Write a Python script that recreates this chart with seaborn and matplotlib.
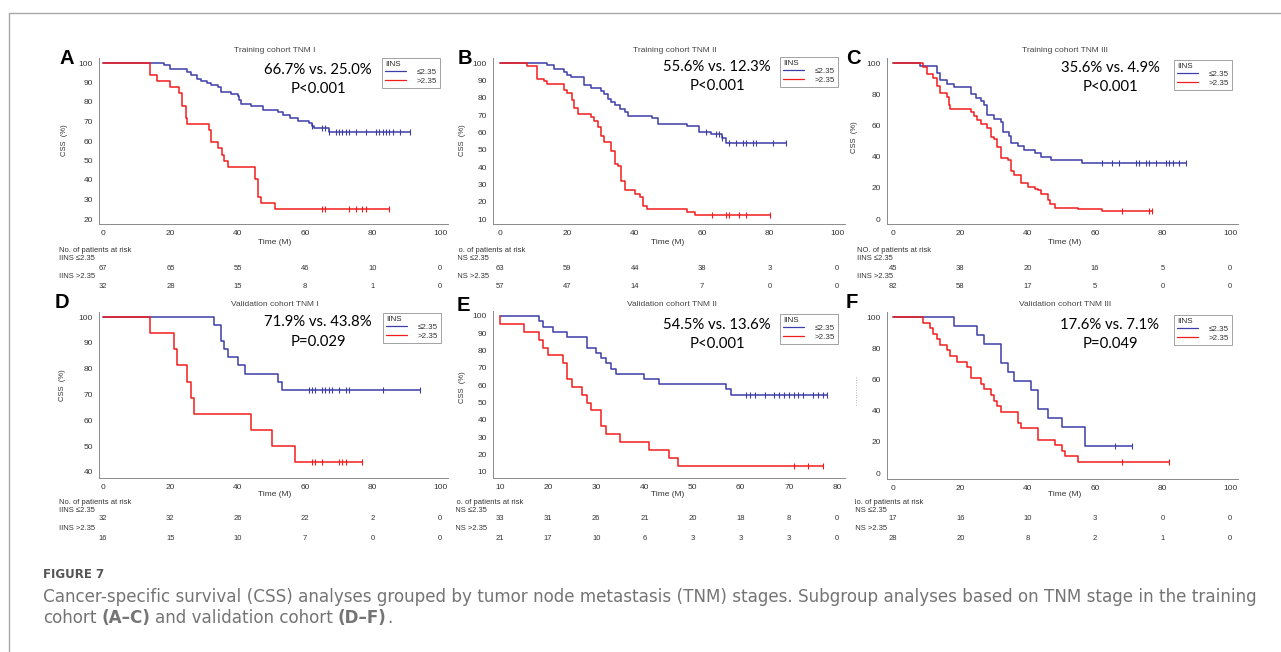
"""
Figure 7: Kaplan-Meier CSS curves by IINS group, split by TNM stage,
training cohort (A-C) and validation cohort (D-F).
"""
import matplotlib

matplotlib.use("Agg")

import matplotlib.pyplot as plt
import numpy as np
import pandas as pd
import seaborn as sns
from matplotlib.lines import Line2D
from matplotlib.ticker import MultipleLocator
from matplotlib.transforms import Bbox, TransformedBbox, blended_transform_factory

# --------------------------------------------------------------------------- #
# Data
# --------------------------------------------------------------------------- #
groups = ["≤2.35", ">2.35"]

a_low_t = [0, 18, 20, 25, 26, 28, 29, 31, 32, 34, 35, 38, 40, 40.5, 41, 44, 47.5, 52, 53.5, 55.5, 58, 61, 62, 62.5, 67, 91]
a_low_s = [100, 98.8, 97, 95.4, 93.7, 92, 90.6, 89.7, 88.5, 87.5, 85, 84.2, 82.9, 81.2, 79, 77.7, 76, 74.8, 73.5, 71.7, 70.4, 69.2, 67.5, 66.7, 64.6, 64.6]
a_low_cens = [62, 65, 66, 67, 69, 70, 71, 72, 73, 75, 78, 81, 82, 83, 84, 85, 86, 88, 91]
a_high_t = [0, 14, 16, 20, 22.5, 23.3, 24.5, 25, 31.5, 32, 34, 35.3, 36, 37, 45, 46, 47, 51, 85]
a_high_s = [100, 93.7, 90.6, 87.5, 84.4, 78, 71.8, 68.8, 65.6, 59.4, 56.3, 53, 50, 46.9, 40.6, 31.3, 28.1, 25, 25]
a_high_cens = [65, 66, 73, 75, 77, 78, 85]

b_low_t = [0, 14, 16, 19, 20, 21, 25, 27, 30, 31, 32, 33, 34, 35.5, 37, 38, 45, 47, 55.5, 59, 62.5, 66, 67, 85]
b_low_s = [100, 98.7, 96.6, 95, 93.3, 92, 87.1, 85.6, 83.7, 82, 79.5, 77.6, 75.7, 73.5, 71.5, 69.5, 68, 65, 63.7, 60, 58.8, 56.7, 54, 54]
b_low_cens = [61, 64, 65, 66, 68, 70, 72, 73, 75, 76, 81, 85]
b_high_t = [0, 8, 11, 13, 14, 19, 20, 21.3, 22, 23, 27, 28, 29, 30, 31, 33, 34, 35, 36, 37, 40, 41.5, 42.5, 43.5, 55.5, 58, 80]
b_high_s = [100, 98.5, 91, 89.5, 88, 84.5, 82.7, 78.8, 74, 70.5, 68.7, 66.8, 63, 58, 54.5, 49, 42, 40.5, 32, 26.5, 24.5, 22.6, 17.5, 15.7, 14, 12.3, 12.3]
b_high_cens = [63, 67, 68, 71, 73, 80]

c_low_t = [0, 8, 13, 14, 16, 18, 23, 24.5, 26, 27, 28, 30, 32, 32.5, 34.5, 35, 37, 39, 42, 44, 47, 56, 87]
c_low_s = [100, 97.8, 93.3, 88.9, 86.7, 84.4, 80, 77.8, 75.6, 73.3, 66.7, 64.4, 62.2, 55.6, 53.3, 48.9, 46.7, 44.4, 42.2, 40, 37.8, 35.6, 35.6]
c_low_cens = [62, 65, 67, 72, 73, 75, 76, 78, 81, 82, 83, 85, 87]
c_high_t = [0, 9, 10, 12, 13, 14, 16, 16.5, 17, 23, 24, 25, 26, 28, 29, 30, 31, 32, 34, 35, 36, 38, 40, 42, 43, 44, 46, 46.5, 48, 55, 62, 77]
c_high_s = [100, 97.6, 92.7, 90.2, 85.4, 80.5, 78, 73.2, 70.7, 68.3, 65.9, 63.4, 61, 58.5, 52.4, 51.2, 46.3, 39, 37.8, 30.5, 28, 23.2, 20.7, 19.5, 18.3, 15.9, 12.2, 9.8, 7.3, 6.1, 4.9, 4.9]
c_high_cens = [68, 76, 77]

d_low_t = [0, 33, 35, 36, 37, 40, 42, 52, 53, 94]
d_low_s = [100, 96.9, 90.6, 87.5, 84.4, 81.3, 78.1, 75, 71.9, 71.9]
d_low_cens = [61, 62, 63, 65, 66, 67, 68, 70, 72, 73, 83, 94]
d_high_t = [0, 14, 21, 22, 25, 26, 27, 44, 50, 57, 77]
d_high_s = [100, 93.75, 87.5, 81.25, 75, 68.75, 62.5, 56.25, 50, 43.75, 43.75]
d_high_cens = [62, 63, 65, 70, 71, 72, 77]

e_low_t = [10, 18, 19, 21, 24, 28, 30, 31, 32, 33, 34, 40, 43, 57, 58, 78]
e_low_s = [100, 97, 93.9, 90.9, 87.9, 81.8, 78.8, 75.8, 72.7, 69.7, 66.7, 63.6, 60.6, 57.6, 54.5, 54.5]
e_low_cens = [61, 62, 63, 65, 67, 68, 69, 70, 71, 72, 73, 75, 76, 77, 78]
e_high_t = [10, 10.05, 15, 18, 19, 20, 23, 24, 25, 27, 28, 29, 31, 32, 35, 41, 45, 47, 77]
e_high_s = [100, 95.5, 90.9, 86.4, 81.8, 77.3, 72.7, 63.6, 59.1, 54.5, 50, 45.5, 36.4, 31.8, 27.3, 22.7, 18.2, 13.6, 13.6]
e_high_cens = [71, 74, 77]

f_low_t = [0, 18, 25, 27, 32, 34, 36, 41, 43, 46, 50, 57, 71]
f_low_s = [100, 94.1, 88.2, 82.4, 70.6, 64.7, 58.8, 52.9, 41.2, 35.3, 29.4, 17.6, 17.6]
f_low_cens = [66, 71]
f_high_t = [0, 9, 11, 12, 13, 14, 16, 17, 19, 22, 23, 26, 27, 29, 30, 31, 32, 37, 38, 43, 48, 50, 51, 55, 82]
f_high_s = [100, 96.4, 92.9, 89.3, 85.7, 82.1, 78.6, 75, 71.4, 67.9, 60.7, 57.1, 53.6, 50, 46.4, 42.9, 39.3, 32.1, 28.6, 21.4, 17.9, 14.3, 10.7, 7.1, 7.1]
f_high_cens = [68, 82]

# numbers at risk
risk_times_100 = [0, 20, 40, 60, 80, 100]
risk_times_e = [10, 20, 30, 40, 50, 60, 70, 80]
a_risk_low = [67, 65, 55, 46, 10, 0]
a_risk_high = [32, 28, 15, 8, 1, 0]
b_risk_low = [63, 59, 44, 38, 3, 0]
b_risk_high = [57, 47, 14, 7, 0, 0]
c_risk_low = [45, 38, 20, 16, 5, 0]
c_risk_high = [82, 58, 17, 5, 0, 0]
d_risk_low = [32, 32, 26, 22, 2, 0]
d_risk_high = [16, 15, 10, 7, 0, 0]
e_risk_low = [33, 31, 26, 21, 20, 18, 8, 0]
e_risk_high = [21, 17, 10, 6, 3, 3, 3, 0]
f_risk_low = [17, 16, 10, 3, 0, 0]
f_risk_high = [28, 20, 8, 2, 1, 0]

titles = ["Training cohort TNM I", "Training cohort TNM II", "Training cohort TNM III",
          "Validation cohort TNM I", "Validation cohort TNM II", "Validation cohort TNM III"]
rates = ["66.7% vs. 25.0%", "55.6% vs. 12.3%", "35.6% vs. 4.9%",
         "71.9% vs. 43.8%", "54.5% vs. 13.6%", "17.6% vs. 7.1%"]
pvals = ["P<0.001", "P<0.001", "P<0.001", "P=0.029", "P<0.001", "P=0.049"]
letters = ["A", "B", "C", "D", "E", "F"]
risk_headers = ["No. of patients at risk", "No. of patients at risk", "NO. of patients at risk",
                "No. of patients at risk", "No. of patients at risk", "No. of patients at risk"]

caption_head = "FIGURE 7"
caption_line1 = ("Cancer-specific survival (CSS) analyses grouped by tumor node metastasis (TNM) stages. "
                 "Subgroup analyses based on TNM stage in the training")
caption_line2 = [("cohort", "normal"), ("(A\u2013C)", "bold"), ("and validation cohort", "normal"),
                 ("(D\u2013F)", "bold"), (".", "normal")]

# --------------------------------------------------------------------------- #
# Layout (pixel geometry of the 1281x652 figure)
# --------------------------------------------------------------------------- #
W, H = 1281, 652
BLUE = "#3d3da8"
RED = "#f21c1c"
TXT = "#333333"
SPINE = "#8a8a8a"
SANS = ["Liberation Sans", "DejaVu Sans"]
CAP = ["DejaVu Sans"]
CAP_SIZE = 12.1
CAP_COLOR = "#747474"


def fx(p):
    return p / W


def fy(p):
    return 1 - p / H


panels = [
    dict(xd=(0, 100), xp=(103, 440), yd=(20, 100), yp=(219, 63), box=(99, 58, 448, 224), ymaj=10, xmaj=20,
         low=(a_low_t, a_low_s, a_low_cens), high=(a_high_t, a_high_s, a_high_cens),
         risk=(risk_times_100, a_risk_low, a_risk_high)),
    dict(xd=(0, 100), xp=(500, 837), yd=(10, 100), yp=(219, 63), box=(493, 58, 845, 224), ymaj=10, xmaj=20,
         low=(b_low_t, b_low_s, b_low_cens), high=(b_high_t, b_high_s, b_high_cens),
         risk=(risk_times_100, b_risk_low, b_risk_high)),
    dict(xd=(0, 100), xp=(893, 1230), yd=(0, 100), yp=(219, 63), box=(887, 58, 1238, 224), ymaj=20, xmaj=20,
         low=(c_low_t, c_low_s, c_low_cens), high=(c_high_t, c_high_s, c_high_cens),
         risk=(risk_times_100, c_risk_low, c_risk_high)),
    dict(xd=(0, 100), xp=(103, 440), yd=(40, 100), yp=(472, 317), box=(99, 312, 448, 478), ymaj=10, xmaj=20,
         low=(d_low_t, d_low_s, d_low_cens), high=(d_high_t, d_high_s, d_high_cens),
         risk=(risk_times_100, d_risk_low, d_risk_high)),
    dict(xd=(10, 80), xp=(500, 837), yd=(10, 100), yp=(472, 316), box=(493, 311, 845, 478), ymaj=10, xmaj=10,
         low=(e_low_t, e_low_s, e_low_cens), high=(e_high_t, e_high_s, e_high_cens),
         risk=(risk_times_e, e_risk_low, e_risk_high)),
    dict(xd=(0, 100), xp=(893, 1230), yd=(0, 100), yp=(473, 317), box=(887, 312, 1238, 479), ymaj=20, xmaj=20,
         low=(f_low_t, f_low_s, f_low_cens), high=(f_high_t, f_high_s, f_high_cens),
         risk=(risk_times_100, f_risk_low, f_risk_high)),
]

# text anchors per panel (pixels)
letter_xy = [(67, 58), (465, 58), (853, 58), (62, 303), (463, 305), (852, 303)]
title_xy = [(275, 51), (675, 50), (1065, 50), (275, 304), (672, 304), (1065, 304)]
rate_xy = [(318, 70), (717, 67), (1110, 68), (318, 322), (717, 325), (1110, 325)]
p_xy = [(318, 89), (717, 86), (1110, 87), (318, 342), (717, 344), (1110, 344)]
legend_xy = [(382, 58), (780, 57), (1174, 60), (383, 313), (780, 314), (1174, 315)]
ylab_xy = [(65, 140), (462, 140), (855, 137), (63, 385), (462, 387), None]
xlab_xy = [(275, 242), (668, 242), (1065, 242), (275, 494), (668, 494), (1065, 495)]
# risk table: header x, clipping edge, rows y (header, low label, low nums, high label, high nums)
risk_x = [59, 453, 857, 59, 451, 851]
risk_clip = [None, 458, None, None, 456, 855]
risk_rows = [(250, 259, 268, 277, 286)] * 3 + [(503, 511, 519, 528, 538)] * 3


def surv_at(times, surv, when):
    idx = np.searchsorted(np.asarray(times), np.asarray(when), side="right") - 1
    return np.asarray(surv)[idx]


def lims(d, p, edge_a, edge_b):
    scale = (d[1] - d[0]) / (p[1] - p[0])
    return d[0] + (edge_a - p[0]) * scale, d[0] + (edge_b - p[0]) * scale


sns.set_style("white")
plt.rcParams["font.family"] = SANS

fig = plt.figure(figsize=(W / 100, H / 100), dpi=100)

for i, pan in enumerate(panels):
    L, T, R, B = pan["box"]
    ax = fig.add_axes([fx(L), fy(B), (R - L) / W, (B - T) / H])

    rows = []
    for grp, (t, s, _) in zip(groups, [pan["low"], pan["high"]]):
        rows.append(pd.DataFrame({"Time": t, "CSS": s, "IINS": grp}))
    df = pd.concat(rows, ignore_index=True)

    sns.lineplot(data=df, x="Time", y="CSS", hue="IINS", palette=[BLUE, RED],
                 estimator=None, drawstyle="steps-post", linewidth=1.1,
                 legend=False, ax=ax)
    # censoring ticks
    for (t, s, cens), col in zip([pan["low"], pan["high"]], [BLUE, RED]):
        sns.scatterplot(x=cens, y=surv_at(t, s, cens), marker="|", s=18,
                        color=col, linewidth=0.8, legend=False, ax=ax)

    ax.set_xlim(*lims(pan["xd"], pan["xp"], L, R))
    ax.set_ylim(*lims(pan["yd"], pan["yp"], B, T))
    ax.set_xticks(np.arange(pan["xd"][0], pan["xd"][1] + 0.1, pan["xmaj"]))
    ax.set_yticks(np.arange(pan["yd"][0], pan["yd"][1] + 0.1, pan["ymaj"]))
    ax.xaxis.set_minor_locator(MultipleLocator(pan["xmaj"] / 2))
    ax.yaxis.set_minor_locator(MultipleLocator(pan["ymaj"] / 2))
    ax.set_xlabel("")
    ax.set_ylabel("")
    ax.tick_params(which="major", direction="out", length=3, width=0.6, color=SPINE,
                   labelsize=6, labelcolor=TXT, pad=1.5)
    ax.tick_params(which="minor", direction="out", length=2, width=0.5, color=SPINE)
    for side in ["top", "right"]:
        ax.spines[side].set_visible(False)
    for side in ["left", "bottom"]:
        ax.spines[side].set_color(SPINE)
        ax.spines[side].set_linewidth(0.7)
    ax.patch.set_alpha(0)

    # legend box
    handles = [Line2D([], [], color=BLUE, lw=0.9), Line2D([], [], color=RED, lw=0.9)]
    leg = ax.legend(handles, groups, title="IINS", loc="upper left",
                    bbox_to_anchor=(fx(legend_xy[i][0]), fy(legend_xy[i][1])),
                    bbox_transform=fig.transFigure, borderaxespad=0,
                    fontsize=5.8, title_fontsize=5.8, frameon=True, fancybox=False,
                    handlelength=2.6, handletextpad=1.4, labelspacing=0.1,
                    borderpad=0.35, edgecolor=SPINE)
    leg.get_frame().set_linewidth(0.7)
    leg._legend_box.align = "left"
    for txt in leg.get_texts():
        txt.set_color(TXT)

    # titles, letters, stats
    fig.text(fx(title_xy[i][0]), fy(title_xy[i][1]), titles[i], ha="center", va="center",
             fontsize=6, color="#444444")
    fig.text(fx(letter_xy[i][0]), fy(letter_xy[i][1]), letters[i], ha="center", va="center",
             fontsize=14.5, fontweight="bold", color="black")
    fig.text(fx(rate_xy[i][0]), fy(rate_xy[i][1]), rates[i], ha="center", va="center",
             fontsize=10.7, color="black", family=["Lato", "DejaVu Sans"])
    fig.text(fx(p_xy[i][0]), fy(p_xy[i][1]), pvals[i], ha="center", va="center",
             fontsize=10.7, color="black", family=["Lato", "DejaVu Sans"])
    if ylab_xy[i] is not None:
        fig.text(fx(ylab_xy[i][0]), fy(ylab_xy[i][1]), "CSS  (%)", ha="center", va="center",
                 rotation=90, fontsize=5.5, color=TXT)
    fig.text(fx(xlab_xy[i][0]), fy(xlab_xy[i][1]), "Time (M)", ha="center", va="center",
             fontsize=6, color=TXT)

    # number at risk table
    r_t, r_low, r_high = pan["risk"]
    y_head, y_l1, y_n1, y_l2, y_n2 = risk_rows[i]
    clip = None
    if risk_clip[i] is not None:
        clip = TransformedBbox(Bbox([[fx(risk_clip[i]), 0], [1, 1]]), fig.transFigure)
    for y, s in [(y_head, risk_headers[i]), (y_l1, "IINS ≤2.35"), (y_l2, "IINS >2.35")]:
        t = fig.text(fx(risk_x[i]), fy(y), s, ha="left", va="center", fontsize=5.5, color=TXT)
        if clip is not None:
            t.set_clip_box(clip)
            t.set_clip_on(True)
    trans = blended_transform_factory(ax.transData, fig.transFigure)
    for xv, n1, n2 in zip(r_t, r_low, r_high):
        ax.text(xv, fy(y_n1), str(n1), transform=trans, ha="center", va="center",
                fontsize=5.5, color=TXT, clip_on=False)
        ax.text(xv, fy(y_n2), str(n2), transform=trans, ha="center", va="center",
                fontsize=5.5, color=TXT, clip_on=False)

# remnant of the cropped y label in panel F
fig.add_artist(Line2D([fx(856), fx(856)], [fy(377), fy(407)], color="#9aa0b8",
                      lw=0.6, ls=(0, (1, 2))))

# frame of the figure block
fig.add_artist(Line2D([fx(9), 1], [fy(13), fy(13)], color="#a8a8a8", lw=1))
fig.add_artist(Line2D([fx(9), fx(9)], [fy(13), 0], color="#a8a8a8", lw=1))

# caption
fig.text(fx(43), fy(575), caption_head, ha="left", va="center", fontsize=8.5,
         fontweight="bold", color="#555555", family=CAP)
fig.text(fx(43), fy(597), caption_line1, ha="left", va="center", fontsize=CAP_SIZE,
         color=CAP_COLOR, family=CAP)

# second caption line: chain the pieces so the bold parts sit inline
prev = fig.text(fx(43), fy(618), caption_line2[0][0], ha="left", va="center",
                fontsize=CAP_SIZE, color=CAP_COLOR, family=CAP)
anchor_ax = fig.axes[0]
for s, wgt in caption_line2[1:]:
    gap = 0 if s == "." else 3.5
    prev = anchor_ax.annotate(s, xy=(1, 0), xycoords=prev, xytext=(gap, 0),
                              textcoords="offset points", ha="left", va="bottom",
                              fontsize=CAP_SIZE, color=CAP_COLOR, family=CAP,
                              fontweight=wgt, annotation_clip=False)

fig.savefig("out.png", dpi=100)
plt.close(fig)
